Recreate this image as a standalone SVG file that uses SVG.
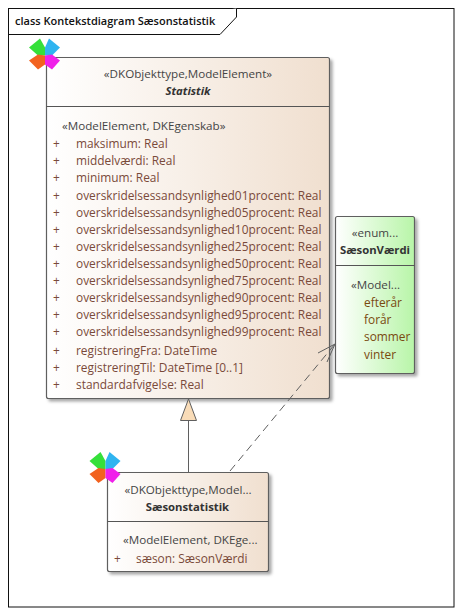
<svg xmlns="http://www.w3.org/2000/svg" width="462" height="615" viewBox="0 0 462 615">
<style>
text{font-family:"Open Sans","Noto Sans","Liberation Sans",sans-serif;font-size:11.900px}
.s{fill:#444444;font-size:11.650px}.a{fill:#7a4a3a}.e{fill:#7a4a10}.b{font-weight:700;fill:#333333;font-size:11.300px}.m{text-anchor:middle}
.box{stroke:#5f5f5f;stroke-width:1.2}.sep{stroke:#555555;stroke-width:1}
.plus{fill:#7a4a3a}
</style>
<defs>
<linearGradient id="g1" x1="0" x2="1" y1="0" y2="0"><stop offset="0" stop-color="#ffffff"/><stop offset="1" stop-color="#f0dfcf"/></linearGradient>
<linearGradient id="g2" x1="0" x2="1" y1="0" y2="0"><stop offset="0" stop-color="#ffffff"/><stop offset="1" stop-color="#b8f5a8"/></linearGradient>
<filter id="sh" x="-10%" y="-10%" width="125%" height="125%"><feDropShadow dx="2.500" dy="2.500" stdDeviation="1.500" flood-color="#000" flood-opacity="0.35"/></filter>
<g id="clover">
<path d="M0 0L0-8L-5-17L-16-8L-7 0Z" fill="#35e03a"/>
<path d="M0 0L0-8L4-17L15-8L7 0Z" fill="#2fb4f0"/>
<path d="M0 0L-7-1L-16 5L-7 14L0 9Z" fill="#f2621f"/>
<path d="M0 0L7-1L15 5L7 14L0 9Z" fill="#f020ea"/>
</g>
</defs>
<rect width="462" height="615" fill="#fff"/>
<g id="frame">
<rect x="8.500" y="8.500" width="445.500" height="598.500" fill="#fff" stroke="#111" stroke-width="1"/>
<path d="M8.500 34.500H220L236.500 17V8.500" fill="#fff" stroke="#111"/>
<text x="15" y="25" style="font-size:11px" fill="#111" font-weight="600">class Kontekstdiagram Sæsonstatistik</text>
</g>
<g id="statistik">
<rect class="box" x="46.500" y="57.500" width="283" height="341" rx="2" fill="url(#g1)" filter="url(#sh)"/>
<path class="sep" d="M46.500 106.500H329.500"/>
<use href="#clover" x="45" y="55.500"/>
<text class="s m" x="188" y="78">«DKObjekttype,ModelElement»</text>
<text class="b m" x="188" y="95" font-style="italic">Statistik</text>
<text class="s" x="62" y="130">«ModelElement, DKEgenskab»</text>
<g class="plus"><text x="53" y="147.500">+</text><text x="53" y="164.500">+</text><text x="53" y="181.500">+</text><text x="53" y="199.500">+</text><text x="53" y="216.500">+</text><text x="53" y="233.500">+</text><text x="53" y="250.500">+</text><text x="53" y="267.500">+</text><text x="53" y="284.500">+</text><text x="53" y="301.500">+</text><text x="53" y="318.500">+</text><text x="53" y="335.500">+</text><text x="53" y="354.500">+</text><text x="53" y="371.500">+</text><text x="53" y="388.500">+</text></g>
<g class="a">
<text x="76" y="147.500">maksimum: Real</text>
<text x="76" y="164.500">middelværdi: Real</text>
<text x="76" y="181.500">minimum: Real</text>
<text x="76" y="199.500">overskridelsessandsynlighed01procent: Real</text>
<text x="76" y="216.500">overskridelsessandsynlighed05procent: Real</text>
<text x="76" y="233.500">overskridelsessandsynlighed10procent: Real</text>
<text x="76" y="250.500">overskridelsessandsynlighed25procent: Real</text>
<text x="76" y="267.500">overskridelsessandsynlighed50procent: Real</text>
<text x="76" y="284.500">overskridelsessandsynlighed75procent: Real</text>
<text x="76" y="301.500">overskridelsessandsynlighed90procent: Real</text>
<text x="76" y="318.500">overskridelsessandsynlighed95procent: Real</text>
<text x="76" y="335.500">overskridelsessandsynlighed99procent: Real</text>
<text x="76" y="354.500">registreringFra: DateTime</text>
<text x="76" y="371.500">registreringTil: DateTime [0..1]</text>
<text x="76" y="388.500">standardafvigelse: Real</text>
</g>
</g>
<g id="saesonvaerdi">
<rect class="box" x="335.500" y="216.500" width="79" height="157" rx="2" fill="url(#g2)" filter="url(#sh)"/>
<path class="sep" d="M335.500 265.500H414.500"/>
<text class="s m" x="375" y="237">«enum...</text>
<text class="b m" x="375" y="254">SæsonVærdi</text>
<text class="s" x="351" y="289">«Model...</text>
<g class="e"><text x="364" y="306.500">efterår</text><text x="364" y="323.500">forår</text><text x="364" y="340.500">sommer</text><text x="364" y="358.500">vinter</text></g>
</g>
<g id="saesonstatistik">
<rect class="box" x="107.500" y="472.500" width="161" height="99" rx="2" fill="url(#g1)" filter="url(#sh)"/>
<path class="sep" d="M107.500 521.500H268.500"/>
<use href="#clover" x="105.500" y="469"/>
<text class="s m" x="188" y="494">«DKObjekttype,Model...</text>
<text class="b m" x="187.500" y="511">Sæsonstatistik</text>
<text class="s" x="123" y="544">«ModelElement, DKEge...</text>
<text class="plus" x="114" y="562.500">+</text>
<text class="a" x="136" y="562.500">sæson: SæsonVærdi</text>
</g>
<g id="connectors" fill="none" stroke="#5f5f5f">
<path d="M188.500 472V420"/>
<path d="M188.500 399L180.500 420.500H196.500Z" fill="#f9dcb8"/>
<path d="M230 471L335 344" stroke-dasharray="8 5"/>
<path d="M318 353L335 344L327 362"/>
</g>
</svg>
